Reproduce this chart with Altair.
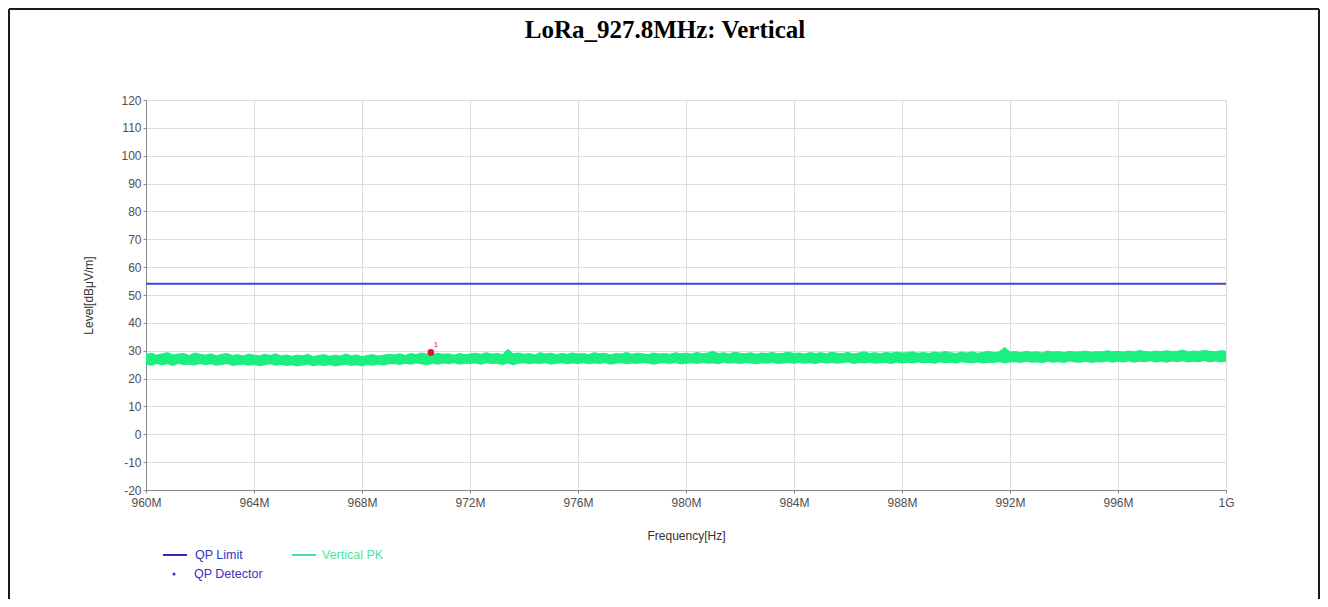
import altair as alt
import pandas as pd

# ---------------- data ----------------
title_text = "LoRa_927.8MHz: Vertical"
x_title = "Frequency[Hz]"
y_title = "Level[dBμV/m]"
x_ticks = [960, 964, 968, 972, 976, 980, 984, 988, 992, 996, 1000]
y_ticks = [-20, -10, 0, 10, 20, 30, 40, 50, 60, 70, 80, 90, 100, 110, 120]

limit_freq = [960, 1000]
limit_level = [54.0, 54.0]

marker_freq = [970.55]
marker_level = [29.4]
marker_label = ["1"]

legend_labels = ["QP Limit", "Vertical PK", "QP Detector"]

# sweep frequencies (MHz), 0.2 MHz step
sweep_freq = [round(960 + 0.2 * i, 1) for i in range(201)]

# upper envelope of the Vertical PK trace (dBuV/m)
pk_hi = [
    28.6, 29.1, 28.4, 28.9, 29.3, 28.5, 28.8, 29.0, 28.3, 29.2, 28.7,
    28.4, 28.9, 28.2, 28.7, 29.0, 28.3, 28.6, 28.1, 28.8, 28.4, 28.2, 28.7, 28.3, 28.9, 28.1,
    28.5, 28.0, 28.4, 28.2, 28.7, 27.9, 28.3, 28.6, 28.0, 28.4, 28.1, 28.8, 28.2, 28.5, 27.9, 28.3, 28.6, 28.1, 28.4, 28.7,
    28.5, 28.9, 28.3, 29.0, 28.6, 29.2, 28.8, 28.5, 29.1, 28.7, 28.9, 28.4, 29.0, 28.6, 28.8,
    29.1, 28.7, 29.3, 28.8, 29.0, 28.6, 30.5, 28.9, 29.2, 28.7, 29.0, 28.5, 29.3, 28.8, 29.1, 28.6, 29.0, 28.7, 29.2, 28.8,
    29.0, 28.6, 29.3, 28.9, 29.1, 28.5, 29.0, 28.8, 29.4, 28.7, 29.1, 28.9, 28.6, 29.2, 28.8, 29.0, 28.7, 29.3, 28.9, 29.1,
    28.8, 29.4, 28.9, 29.2, 29.8, 29.0, 29.3, 28.8, 29.5, 29.1, 28.9, 29.3, 28.7, 29.2, 29.0, 29.4, 28.9, 29.1, 29.5, 29.0,
    29.2, 28.8, 29.4, 29.0, 29.3, 28.9, 29.5, 29.1, 29.0, 29.4, 28.8, 29.2, 29.6, 29.0, 29.3, 28.9, 29.4, 29.1, 29.5, 29.2,
    29.3, 29.6, 29.1, 29.4, 29.0, 29.5, 29.2, 29.7, 29.3, 29.0, 29.5, 29.2, 29.6, 29.1, 29.4, 29.8, 29.3, 29.6, 31.2, 29.5,
    29.7, 29.3, 29.8, 29.4, 29.6, 29.2, 29.9, 29.5, 29.7, 29.3, 29.8, 29.5, 29.6, 29.9, 29.4, 29.7, 29.5, 30.0, 29.6, 29.8,
    29.5, 29.9, 29.6, 30.1, 29.7, 29.5, 29.9, 29.6, 30.0, 29.7, 29.8, 30.2, 29.6, 29.9, 29.7, 30.1, 29.8, 29.6, 30.0, 29.8,
]

# lower envelope of the Vertical PK trace (dBuV/m)
pk_lo = [
    25.0, 24.6, 25.2, 24.8, 25.1, 24.5, 25.3, 24.9, 25.0, 24.7, 25.2,
    24.8, 25.1, 24.6, 24.9, 25.2, 24.5, 24.8, 25.0, 24.6, 24.9, 24.4, 24.8, 25.1, 24.6, 24.9,
    24.5, 24.8, 24.3, 24.7, 25.0, 24.4, 24.8, 24.5, 24.9, 24.3, 24.7, 25.0, 24.5, 24.8, 24.4, 24.9, 24.6, 25.0, 24.7, 25.1,
    25.2, 24.9, 25.3, 25.0, 25.4, 25.1, 24.8, 25.3, 25.0, 25.4, 25.1, 25.5, 25.0, 25.3, 25.2,
    25.4, 25.0, 25.5, 25.2, 25.3, 24.9, 25.4, 24.8, 25.3, 25.5, 25.1, 25.4, 25.2, 25.6, 25.0, 25.3, 25.5, 25.1, 25.4, 25.2,
    25.5, 25.1, 25.4, 25.2, 25.6, 25.0, 25.3, 25.5, 25.1, 25.4, 25.2, 25.6, 25.3, 25.0, 25.4, 25.5, 25.2, 25.6, 25.1, 25.3,
    25.5, 25.2, 25.6, 25.3, 25.4, 25.1, 25.7, 25.3, 25.5, 25.2, 25.6, 25.4, 25.1, 25.5, 25.3, 25.7, 25.2, 25.4, 25.6, 25.3,
    25.6, 25.3, 25.5, 25.2, 25.7, 25.4, 25.6, 25.3, 25.5, 25.8, 25.2, 25.6, 25.4, 25.7, 25.3, 25.5, 25.6, 25.2, 25.7, 25.4,
    25.7, 25.4, 25.8, 25.5, 25.6, 25.3, 25.8, 25.5, 25.7, 25.4, 25.9, 25.6, 25.5, 25.8, 25.4, 25.7, 25.6, 25.9, 25.5, 25.8,
    25.9, 25.6, 26.0, 25.7, 25.8, 25.5, 26.0, 25.7, 25.9, 25.6, 26.1, 25.8, 25.7, 26.0, 25.6, 25.9, 25.8, 26.1, 25.7, 26.0,
    25.8, 26.1, 25.7, 26.0, 25.9, 26.2, 25.8, 26.0, 25.7, 26.1, 25.9, 26.2, 25.8, 26.0, 25.9, 26.3, 25.8, 26.1, 25.9, 26.0,
]

# ---------------- styling ----------------
SANS = "Liberation Sans"
SERIF = "Liberation Serif"
LIMIT_BLUE = "#4242e4"
PK_GREEN = "#1bef7f"
DET_BLUE = "#3434c0"
LEG_GREEN = "#52e39a"
MARK_RED = "#e8141c"

W, H = 1080, 390

x_scale = alt.Scale(domain=[960, 1000], nice=False, zero=False)
y_scale = alt.Scale(domain=[-20, 120], nice=False, zero=False)

x_axis = alt.Axis(
    values=x_ticks,
    labelExpr="datum.value == 1000 ? '1G' : datum.value + 'M'",
    title=x_title,
    grid=True, gridColor="#dcdcdc", gridWidth=1,
    domainColor="#8a8a8a", tickColor="#8a8a8a", tickSize=3,
    labelFont=SANS, labelFontSize=12, labelColor="#505050", labelPadding=4,
    titleFont=SANS, titleFontSize=12, titleFontWeight="normal", titleColor="#333333",
    titleX=W / 2, titleY=45, titleAlign="center", titleBaseline="middle",
    labelFlush=False, labelOverlap=False,
)
y_axis = alt.Axis(
    values=y_ticks,
    labelExpr="datum.value < 0 ? '-' + abs(datum.value) : '' + datum.value",
    title=y_title,
    grid=True, gridColor="#dcdcdc", gridWidth=1,
    domainColor="#8a8a8a", tickColor="#8a8a8a", tickSize=3,
    labelFont=SANS, labelFontSize=12, labelColor="#505050", labelPadding=2,
    titleFont=SANS, titleFontSize=12, titleFontWeight="normal", titleColor="#333333",
    titleAngle=270, titleX=-58, titleY=H / 2, titleAlign="center", titleBaseline="middle",
    labelFlush=False, labelOverlap=False,
)

band_df = pd.DataFrame({"freq": sweep_freq, "hi": pk_hi, "lo": pk_lo})
limit_df = pd.DataFrame({"freq": limit_freq, "level": limit_level})
marker_df = pd.DataFrame({"freq": marker_freq, "level": marker_level, "label": marker_label})

X = lambda f: alt.X(f, scale=x_scale, axis=x_axis)
Y = lambda f: alt.Y(f, scale=y_scale, axis=y_axis)

band = alt.Chart(band_df).mark_area(
    color=PK_GREEN, opacity=1, line={"color": PK_GREEN, "strokeWidth": 1}
).encode(
    x=X("freq:Q"),
    y=Y("hi:Q"),
    y2="lo:Q",
)

limit = alt.Chart(limit_df).mark_line(color=LIMIT_BLUE, strokeWidth=2).encode(
    x=X("freq:Q"),
    y=Y("level:Q"),
)

marker = alt.Chart(marker_df).mark_circle(color=MARK_RED, size=45, opacity=1).encode(
    x=X("freq:Q"),
    y=Y("level:Q"),
)
marker_txt = alt.Chart(marker_df).mark_text(
    color=MARK_RED, fontSize=8, font=SANS, dx=5, dy=-7
).encode(
    x=X("freq:Q"),
    y=Y("level:Q"),
    text="label:N",
)

# title
title_df = pd.DataFrame({"t": [title_text]})
title = alt.Chart(title_df).mark_text(
    font=SERIF, fontSize=25, fontWeight="bold", color="#000000",
    align="center", baseline="alphabetic"
).encode(x=alt.value(519), y=alt.value(-62), text="t:N")

# legend (manual)
def leg_text(label, x, y, color):
    df = pd.DataFrame({"t": [label]})
    return alt.Chart(df).mark_text(
        font=SANS, fontSize=12.5, color=color, align="left", baseline="middle"
    ).encode(x=alt.value(x), y=alt.value(y), text="t:N")

def leg_line(x1, x2, y, color):
    df = pd.DataFrame({"t": [0]})
    return alt.Chart(df).mark_rule(color=color, strokeWidth=2).encode(
        x=alt.value(x1), x2=alt.value(x2), y=alt.value(y)
    )

one = pd.DataFrame({"t": [0]})
leg_dot = alt.Chart(one).mark_circle(color=DET_BLUE, size=10, opacity=1).encode(
    x=alt.value(28), y=alt.value(474)
)

legend_layers = [
    leg_line(17, 41, 455, "#2b2bb8"),
    leg_text(legend_labels[0], 49, 455, DET_BLUE),
    leg_line(146, 170, 455, "#3fe596"),
    leg_text(legend_labels[1], 176, 455, LEG_GREEN),
    leg_dot,
    leg_text(legend_labels[2], 48, 474, DET_BLUE),
]

# outer frame
frame_col = "#1a1a1a"
frame = [
    alt.Chart(one).mark_rule(color=frame_col, strokeWidth=2).encode(
        x=alt.value(-137), x2=alt.value(1173), y=alt.value(-91)),
    alt.Chart(one).mark_rule(color=frame_col, strokeWidth=2).encode(
        x=alt.value(-137), y=alt.value(-91), y2=alt.value(499)),
    alt.Chart(one).mark_rule(color=frame_col, strokeWidth=2).encode(
        x=alt.value(1173), y=alt.value(-91), y2=alt.value(499)),
]

chart = alt.layer(
    band, limit, marker, marker_txt, title, *legend_layers, *frame
).properties(
    width=W, height=H,
    autosize=alt.AutoSizeParams(type="none"),
    padding={"left": 138, "top": 92, "right": 94, "bottom": 109},
).configure_view(stroke=None).configure(background="white")

chart.save("out.html", embed_options={"renderer": "svg", "actions": False})
